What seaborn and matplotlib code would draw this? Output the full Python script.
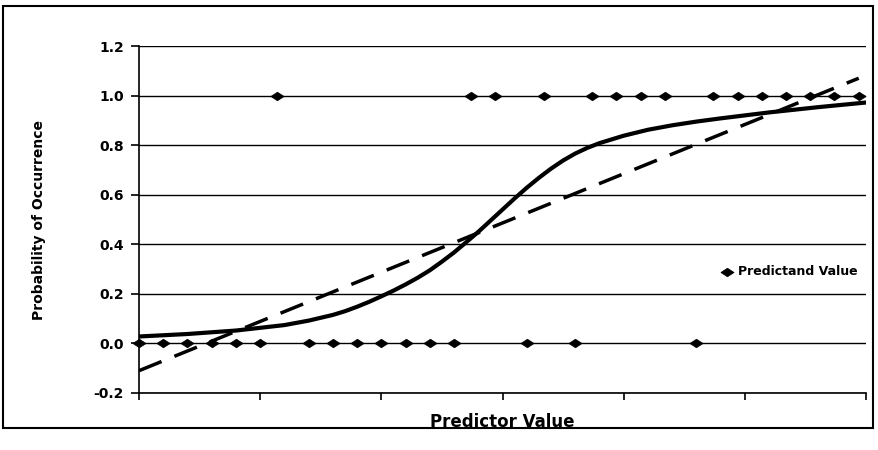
import numpy as np
import pandas as pd
import matplotlib
matplotlib.use('Agg')
import matplotlib.pyplot as plt
from matplotlib.patches import Rectangle
import seaborn as sns

# observed predictand values (0 / 1) against predictor value
x_zero = [0, 1, 2, 3, 4, 5, 7, 8, 9, 10, 11, 12, 13, 16, 18, 23]
x_one = [5.7, 13.7, 14.7, 16.7, 18.7, 19.7, 20.7, 21.7, 23.7, 24.7,
         25.7, 26.7, 27.7, 28.7, 29.7]

# fitted logistic curve
curve_x = [0, 2, 4, 6, 7, 8, 8.5, 9, 9.5, 10, 10.5, 11, 11.5, 12, 12.5, 13,
           13.5, 14, 14.5, 15, 15.5, 16, 16.5, 17, 17.5, 18, 18.5, 19, 20,
           21, 22, 23, 24, 26, 28, 30]
curve_y = [0.028, 0.038, 0.052, 0.074, 0.092, 0.115, 0.13, 0.148, 0.168,
           0.19, 0.213, 0.238, 0.265, 0.295, 0.33, 0.367, 0.408, 0.45,
           0.495, 0.54, 0.585, 0.628, 0.668, 0.705, 0.738, 0.766, 0.789,
           0.808, 0.838, 0.862, 0.88, 0.895, 0.908, 0.932, 0.953, 0.972]

# linear fit
lin_x = [0, 29.7]
lin_y = [-0.11, 1.07]

yticks = [-0.2, 0.0, 0.2, 0.4, 0.6, 0.8, 1.0, 1.2]
xticks = [0, 5, 10, 15, 20, 25, 30]

pts = pd.DataFrame({'x': x_zero + x_one,
                    'y': [0.0] * len(x_zero) + [1.0] * len(x_one)})

sns.set_style('white')
plt.rcParams['font.family'] = ['DejaVu Sans']
plt.rcParams['font.weight'] = 'bold'
plt.rcParams['text.color'] = 'black'
plt.rcParams['axes.labelcolor'] = 'black'
plt.rcParams['xtick.color'] = 'black'
plt.rcParams['ytick.color'] = 'black'

fig = plt.figure(figsize=(8.79, 4.5), dpi=100)
ax = fig.add_axes([139 / 879, 57 / 450, 727 / 879, 347 / 450])

for v in yticks:
    ax.axhline(v, color='black', lw=1.0, zorder=1)

diamond = [(-1, 0), (0, 0.65), (1, 0), (0, -0.65), (-1, 0)]
sns.scatterplot(data=pts, x='x', y='y', ax=ax, marker=diamond, s=90,
                color='black', edgecolor='black', linewidth=0.5,
                zorder=3, clip_on=False, label='Predictand Value')
sns.lineplot(x=curve_x, y=curve_y, ax=ax, color='black', lw=3,
             zorder=4, legend=False)
sns.lineplot(x=lin_x, y=lin_y, ax=ax, color='black', lw=2.5,
             zorder=4, legend=False)
ax.lines[-1].set_dashes([7, 4])

ax.set_xlim(0, 30)
ax.set_ylim(-0.2, 1.2)
ax.set_xticks(xticks)
ax.set_xticklabels([])
ax.set_yticks(yticks)
ax.set_yticklabels([f'{v:.1f}' for v in yticks], fontsize=10, fontweight='bold')
ax.tick_params(axis='y', direction='out', length=6, width=1.2, pad=5,
               left=True)
ax.tick_params(axis='x', direction='out', length=5, width=1.2, bottom=True)

for side in ['top', 'right']:
    ax.spines[side].set_visible(False)
for side in ['left', 'bottom']:
    ax.spines[side].set_color('black')
    ax.spines[side].set_linewidth(1.2)

ax.set_xlabel('Predictor Value', fontsize=12, fontweight='bold')
ax.xaxis.set_label_coords(0.5, -0.058)
ax.set_ylabel('Probability of Occurrence', fontsize=10, fontweight='bold')
ax.yaxis.set_label_coords(-0.128, 0.5)

leg = ax.legend(loc='center left', bbox_to_anchor=(0.8, 0.35),
                frameon=False, fontsize=9, handletextpad=0.4,
                handlelength=1.0, borderaxespad=0, borderpad=0)
for t in leg.get_texts():
    t.set_fontweight('bold')

fig.patches.append(Rectangle((3 / 879, 22 / 450), 870 / 879, 422 / 450,
                             transform=fig.transFigure, fill=False,
                             edgecolor='black', lw=1.5))

fig.savefig('out.png', dpi=100)
